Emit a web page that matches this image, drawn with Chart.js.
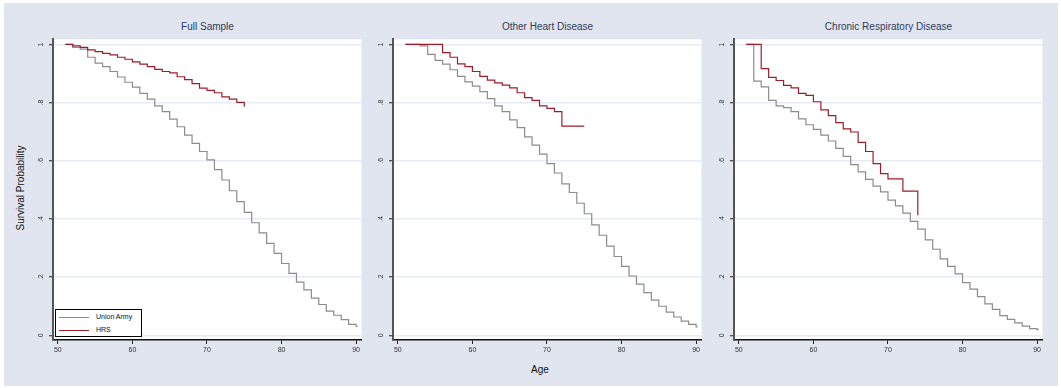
<!DOCTYPE html>
<html>
<head>
    <meta charset="utf-8">
    <title>Survival by cause</title>
    <script src="https://cdn.jsdelivr.net/npm/chart.js"></script>
    <style>
        body {
            margin: 0;
            padding: 0;
            background: #ffffff;
            font-family: 'Liberation Sans', Arial, sans-serif;
        }

        #page {
            position: relative;
            width: 1061px;
            height: 388px;
            overflow: hidden;
        }

        #bg {
            position: absolute;
            left: 4px;
            top: 3px;
            width: 1054px;
            height: 383px;
            background: #e0e5ef;
        }

        .panel {
            position: absolute;
            top: 30px;
        }

        .ptitle {
            position: absolute;
            top: 21px;
            font-size: 10px;
            color: #2f3b5a;
            white-space: nowrap;
            transform: translateX(-50%);
        }

        #ytitle {
            position: absolute;
            left: 20px;
            top: 188px;
            font-size: 10px;
            color: #111;
            white-space: nowrap;
            transform: translate(-50%, -50%) rotate(-90deg);
        }

        #xtitle {
            position: absolute;
            left: 540px;
            top: 364px;
            font-size: 10px;
            color: #111;
            transform: translateX(-50%);
        }

        #legend {
            position: absolute;
            left: 55px;
            top: 309px;
            width: 87px;
            height: 28px;
            box-sizing: border-box;
            background: #fff;
            border: 1px solid #000;
        }

        .lrow {
            position: absolute;
            left: 0;
            height: 13px;
            width: 100%;
        }

        .lline {
            position: absolute;
            left: 3px;
            top: 6px;
            width: 30px;
            height: 0;
            border-top: 1.2px solid #888;
        }

        .ltext {
            position: absolute;
            left: 40px;
            top: 2px;
            font-size: 7px;
            color: #111;
            white-space: nowrap;
        }
    </style>
</head>
<body>
<div id="page">
    <div id="bg"></div>
    <div id="ytitle">Survival Probability</div>
    <div id="xtitle">Age</div>
</div>

<script>
    // ---- data ----
    const panelTitles = ['Full Sample', 'Other Heart Disease', 'Chronic Respiratory Disease'];
    const seriesNames = ['Union Army', 'HRS'];
    const seriesColors = ['#8c8c8c', '#9e1d2b'];

    const xTicks = [50, 60, 70, 80, 90];
    const yTicks = [0, 0.2, 0.4, 0.6, 0.8, 1];
    const yTickLabels = ['0', '.2', '.4', '.6', '.8', '1'];

    // Full Sample
    const uaAgesFull = [51, 52, 53, 54, 55, 56, 57, 58, 59, 60, 61, 62, 63, 64, 65, 66, 67, 68, 69, 70,
        71, 72, 73, 74, 75, 76, 77, 78, 79, 80, 81, 82, 83, 84, 85, 86, 87, 88, 89, 90, 90.2];
    const uaSurvFull = [1, 0.990, 0.984, 0.956, 0.936, 0.924, 0.907, 0.888, 0.870, 0.853, 0.832, 0.812, 0.789,
        0.769, 0.743, 0.717, 0.688, 0.660, 0.632, 0.603, 0.570, 0.534, 0.497, 0.460, 0.423, 0.387, 0.352,
        0.316, 0.282, 0.247, 0.213, 0.183, 0.156, 0.128, 0.106, 0.083, 0.069, 0.054, 0.038, 0.031, 0.031];
    const hrsAgesFull = [51, 52, 53, 54, 55, 56, 57, 58, 59, 60, 61, 62, 63, 64, 65, 66, 67, 68, 69, 70,
        71, 72, 73, 74, 75];
    const hrsSurvFull = [1, 0.995, 0.990, 0.981, 0.975, 0.969, 0.964, 0.956, 0.949, 0.940, 0.932, 0.924,
        0.914, 0.907, 0.902, 0.889, 0.879, 0.865, 0.850, 0.842, 0.834, 0.820, 0.812, 0.801, 0.786];

    // Other Heart Disease
    const uaAgesHeart = [51, 53, 54, 55, 56, 57, 58, 59, 60, 61, 62, 63, 64, 65, 66, 67, 68, 69, 70,
        71, 72, 73, 74, 75, 76, 77, 78, 79, 80, 81, 82, 83, 84, 85, 86, 87, 88, 89, 90, 90.2];
    const uaSurvHeart = [1, 0.995, 0.966, 0.945, 0.932, 0.913, 0.890, 0.871, 0.857, 0.838, 0.814, 0.789,
        0.769, 0.741, 0.714, 0.682, 0.654, 0.623, 0.590, 0.558, 0.521, 0.491, 0.454, 0.418, 0.380, 0.344,
        0.307, 0.271, 0.237, 0.204, 0.176, 0.147, 0.121, 0.100, 0.080, 0.063, 0.049, 0.038, 0.029, 0.029];
    const hrsAgesHeart = [51, 56, 57, 58, 59, 60, 61, 62, 63, 64, 65, 66, 67, 68, 69, 70, 71, 72, 75];
    const hrsSurvHeart = [1, 0.972, 0.956, 0.933, 0.924, 0.907, 0.890, 0.877, 0.868, 0.860, 0.851, 0.834,
        0.817, 0.808, 0.789, 0.780, 0.769, 0.719, 0.719];

    // Chronic Respiratory Disease
    const uaAgesResp = [51, 52, 53, 54, 55, 56, 57, 58, 59, 60, 61, 62, 63, 64, 65, 66, 67, 68, 69, 70,
        71, 72, 73, 74, 75, 76, 77, 78, 79, 80, 81, 82, 83, 84, 85, 86, 87, 88, 89, 90, 90.2];
    const uaSurvResp = [1, 0.874, 0.854, 0.808, 0.789, 0.783, 0.769, 0.744, 0.724, 0.708, 0.688, 0.668,
        0.643, 0.615, 0.587, 0.562, 0.536, 0.513, 0.493, 0.465, 0.445, 0.420, 0.392, 0.365, 0.328, 0.296,
        0.263, 0.237, 0.211, 0.181, 0.159, 0.133, 0.108, 0.089, 0.068, 0.055, 0.043, 0.032, 0.023, 0.020, 0.020];
    const hrsAgesResp = [51, 53, 54, 55, 56, 57, 58, 59, 60, 61, 62, 63, 64, 65, 66, 67, 68, 69, 70, 72, 74];
    const hrsSurvResp = [1, 0.917, 0.887, 0.876, 0.859, 0.851, 0.832, 0.825, 0.803, 0.775, 0.755, 0.731,
        0.710, 0.699, 0.663, 0.632, 0.590, 0.556, 0.538, 0.496, 0.413];

    const panelSeries = [
        [[uaAgesFull, uaSurvFull], [hrsAgesFull, hrsSurvFull]],
        [[uaAgesHeart, uaSurvHeart], [hrsAgesHeart, hrsSurvHeart]],
        [[uaAgesResp, uaSurvResp], [hrsAgesResp, hrsSurvResp]]
    ];

    // ---- layout ----
    const plotLefts = [53, 393, 734];
    const plotWidth = 309;
    const yAxisW = 28;   // room for rotated y tick labels
    const xAxisH = 20;   // room for x tick labels
    const canvasH = 330;

    const FONT = "'Liberation Sans', Arial, sans-serif";

    // white plot region
    const plotBg = {
        id: 'plotBg',
        beforeDraw(chart) {
            const {ctx, chartArea: a} = chart;
            ctx.save();
            ctx.fillStyle = '#ffffff';
            ctx.fillRect(a.left, a.top, a.right - a.left, a.bottom - a.top);
            ctx.restore();
        }
    };

    const page = document.getElementById('page');
    const charts = [];

    panelTitles.forEach((title, p) => {
        const left = plotLefts[p];

        const t = document.createElement('div');
        t.className = 'ptitle';
        t.style.left = (left + plotWidth / 2) + 'px';
        t.textContent = title;
        page.appendChild(t);

        const wrap = document.createElement('div');
        wrap.className = 'panel';
        wrap.style.left = (left - yAxisW) + 'px';
        const canvas = document.createElement('canvas');
        canvas.width = plotWidth + yAxisW;
        canvas.height = canvasH;
        wrap.appendChild(canvas);
        page.appendChild(wrap);

        const datasets = panelSeries[p].map((s, i) => ({
            label: seriesNames[i],
            data: s[0].map((age, k) => ({x: age, y: s[1][k]})),
            borderColor: seriesColors[i],
            borderWidth: 1.2,
            pointRadius: 0,
            stepped: 'before',
            fill: false,
            order: i === 1 ? 0 : 1
        }));

        charts.push(new Chart(canvas.getContext('2d'), {
            type: 'line',
            data: {datasets: datasets},
            plugins: [plotBg],
            options: {
                responsive: false,
                devicePixelRatio: 1,
                animation: false,
                layout: {padding: {top: 4, left: 0, right: 0, bottom: 0}},
                plugins: {
                    legend: {display: false},
                    tooltip: {enabled: false},
                    title: {display: false}
                },
                scales: {
                    x: {
                        type: 'linear',
                        min: 49.35,
                        max: 90.72,
                        afterFit: s => { s.height = xAxisH; },
                        afterBuildTicks: s => { s.ticks = xTicks.map(v => ({value: v})); },
                        grid: {
                            drawOnChartArea: false,
                            drawTicks: true,
                            tickLength: 4,
                            tickColor: '#222',
                            tickWidth: 1
                        },
                        border: {display: true, color: '#111', width: 1.5},
                        ticks: {
                            autoSkip: false,
                            maxRotation: 0,
                            padding: 2,
                            color: '#333',
                            font: {family: FONT, size: 7}
                        }
                    },
                    y: {
                        type: 'linear',
                        min: -0.016,
                        max: 1.018,
                        afterFit: s => { s.width = yAxisW; },
                        afterBuildTicks: s => { s.ticks = yTicks.map(v => ({value: v})); },
                        grid: {
                            color: '#e7ebf3',
                            lineWidth: 1.5,
                            drawTicks: true,
                            tickLength: 4,
                            tickColor: '#222',
                            tickWidth: 1
                        },
                        border: {display: true, color: '#555', width: 2},
                        ticks: {
                            autoSkip: false,
                            minRotation: 90,
                            maxRotation: 90,
                            crossAlign: 'center',
                            padding: 5,
                            color: '#333',
                            font: {family: FONT, size: 7},
                            callback: (v) => yTickLabels[yTicks.indexOf(v)]
                        }
                    }
                }
            }
        }));
    });

    // legend inside the first panel, built from the datasets
    const legend = document.createElement('div');
    legend.id = 'legend';
    charts[0].data.datasets.forEach((ds, i) => {
        const row = document.createElement('div');
        row.className = 'lrow';
        row.style.top = (1 + i * 13) + 'px';
        const line = document.createElement('div');
        line.className = 'lline';
        line.style.borderTopColor = ds.borderColor;
        const txt = document.createElement('div');
        txt.className = 'ltext';
        txt.textContent = ds.label;
        row.appendChild(line);
        row.appendChild(txt);
        legend.appendChild(row);
    });
    page.appendChild(legend);
</script>
</body>
</html>
